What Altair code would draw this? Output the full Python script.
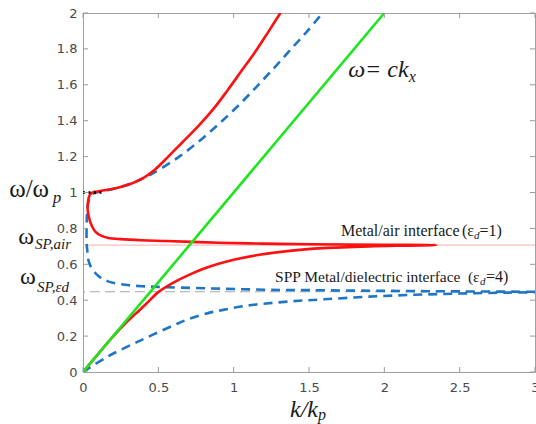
import altair as alt
import pandas as pd

# ---------------- data ----------------
x_ticks = [0, 0.5, 1, 1.5, 2, 2.5, 3]
y_ticks = [0, 0.2, 0.4, 0.6, 0.8, 1, 1.2, 1.4, 1.6, 1.8, 2]

# metal / air (eps_d = 1): one continuous red path
red_k = [0, 0.1, 0.2, 0.28, 0.35, 0.42, 0.5, 0.6, 0.7, 0.8, 0.9, 1.0, 1.15, 1.37, 1.59, 1.9, 2.15, 2.345,
         2.0, 1.5, 1.2, 0.9, 0.72, 0.55, 0.39, 0.25, 0.168, 0.12, 0.08, 0.055, 0.04, 0.031, 0.032, 0.038, 0.047,
         0.065, 0.144, 0.25, 0.387, 0.48, 0.566, 0.66, 0.765, 0.87, 0.96, 1.05, 1.14, 1.23, 1.31]
red_w = [0, 0.1, 0.198, 0.27, 0.325, 0.38, 0.445, 0.498, 0.54, 0.575, 0.603, 0.625, 0.65, 0.675, 0.69, 0.70, 0.704, 0.707,
         0.709, 0.712, 0.715, 0.72, 0.725, 0.73, 0.734, 0.74, 0.747, 0.76, 0.784, 0.82, 0.86, 0.905, 0.94, 0.97, 0.99,
         1.0, 1.012, 1.03, 1.075, 1.13, 1.2, 1.28, 1.37, 1.47, 1.57, 1.675, 1.78, 1.895, 2.0]

# metal / dielectric (eps_d = 4): lower branch
blue_low_k = [0, 0.168, 0.39, 0.61, 0.71, 0.83, 0.93, 1.05, 1.15, 1.37, 1.6, 1.9, 2.2, 2.5, 2.8, 3.0]
blue_low_w = [0, 0.088, 0.179, 0.263, 0.298, 0.328, 0.346, 0.365, 0.376, 0.393, 0.405, 0.42, 0.43, 0.437, 0.442, 0.444]

# metal / dielectric (eps_d = 4): back-bent part + upper branch
blue_up_k = [3.0, 2.5, 2.0, 1.5, 1.23, 0.83, 0.5, 0.39, 0.28, 0.166, 0.11, 0.08, 0.05, 0.035, 0.028, 0.024, 0.024,
             0.026, 0.03, 0.04, 0.06, 0.1, 0.2, 0.317, 0.449, 0.639, 0.791, 0.925, 1.05, 1.164, 1.275, 1.382, 1.49, 1.59]
blue_up_w = [0.447, 0.449, 0.452, 0.456, 0.458, 0.466, 0.474, 0.478, 0.486, 0.505, 0.53, 0.553, 0.59, 0.626, 0.68, 0.72, 0.81,
             0.87, 0.92, 0.96, 0.99, 1.003, 1.02, 1.05, 1.1, 1.2, 1.3, 1.4, 1.5, 1.6, 1.7, 1.8, 1.9, 2.0]

light_k = [0, 2]
light_w = [0, 2]

dot_k = [0, 0.14]
dot_w = [1, 1]

w_sp_air = 0.707
w_sp_d = 0.447

W, H = 452, 359

xs = alt.Scale(domain=[0, 3], nice=False, zero=False)
ys = alt.Scale(domain=[0, 2], nice=False, zero=False)

xaxis = alt.Axis(values=x_ticks, format="~g", title=None, grid=False, ticks=False, domain=False,
                 labelFont="DejaVu Sans", labelFontSize=13, labelColor="#4a4a4a", labelPadding=9,
                 labelFlush=False, labelOverlap=False)
yaxis = alt.Axis(values=y_ticks, format="~g", title=None, grid=False, ticks=False, domain=False,
                 labelFont="DejaVu Sans", labelFontSize=13, labelColor="#4a4a4a", labelPadding=6,
                 labelOverlap=False)


def path(k, w):
    return pd.DataFrame({"k": k, "w": w, "i": list(range(len(k)))})


def line(df, **kw):
    return alt.Chart(df).mark_line(clip=True, **kw).encode(
        x=alt.X("k:Q", scale=xs, axis=xaxis),
        y=alt.Y("w:Q", scale=ys, axis=yaxis),
        order="i:Q",
    )


pink = alt.Chart(pd.DataFrame({"w": [w_sp_air]})).mark_rule(color="#ffbcbc", strokeWidth=1.2).encode(
    y=alt.Y("w:Q", scale=ys, axis=yaxis))
gray = alt.Chart(pd.DataFrame({"w": [w_sp_d]})).mark_rule(color="#a8a8a8", strokeWidth=1.2,
                                                            strokeDash=[10, 5]).encode(
    y=alt.Y("w:Q", scale=ys, axis=yaxis))

blue_low = line(path(blue_low_k, blue_low_w), color="#1f75c6", strokeWidth=2.6, strokeDash=[9, 6],
                interpolate="catmull-rom")
blue_up = line(path(blue_up_k, blue_up_w), color="#1f75c6", strokeWidth=2.6, strokeDash=[9, 6],
               interpolate="catmull-rom")
red = line(path(red_k, red_w), color="#ff1010", strokeWidth=2.6, interpolate="catmull-rom")
green = line(path(light_k, light_w), color="#1ee61e", strokeWidth=2.6)
dotted = line(path(dot_k, dot_w), color="#000000", strokeWidth=2.6, strokeDash=[2, 3.5])

# inside ticks (MATLAB style box)
xt = pd.DataFrame({"t": x_ticks})
yt = pd.DataFrame({"t": y_ticks})
tick_col = "#9a9a9a"
tb = alt.Chart(xt).mark_rule(color=tick_col).encode(x=alt.X("t:Q", scale=xs, axis=xaxis),
                                                    y=alt.value(H), y2=alt.value(H - 5))
tt = alt.Chart(xt).mark_rule(color=tick_col).encode(x=alt.X("t:Q", scale=xs, axis=xaxis),
                                                    y=alt.value(0), y2=alt.value(5))
tl = alt.Chart(yt).mark_rule(color=tick_col).encode(y=alt.Y("t:Q", scale=ys, axis=yaxis),
                                                    x=alt.value(0), x2=alt.value(5))
tr = alt.Chart(yt).mark_rule(color=tick_col).encode(y=alt.Y("t:Q", scale=ys, axis=yaxis),
                                                    x=alt.value(W), x2=alt.value(W - 5))

# ---------------- text annotations (data coordinates) ----------------
ann_text = ["ω= ck", "x",
            "ω/ω", "p",
            "ω", "SP,air",
            "ω", "SP,εd",
            "Metal/air  interface", "(ε", "d", "=1)",
            "SPP Metal/dielectric  interface", "(ε", "d", "=4)",
            "k/k", "p"]
ann_k = [1.76, 2.162,
         -0.49, -0.2,
         -0.43, -0.318,
         -0.418, -0.305,
         1.712, 2.515, 2.595, 2.632,
         1.275, 2.555, 2.635, 2.675,
         1.374, 1.56]
ann_w = [1.643, 1.615,
         0.977, 0.94,
         0.712, 0.688,
         0.49, 0.448,
         0.76, 0.76, 0.742, 0.76,
         0.50, 0.50, 0.482, 0.50,
         -0.25, -0.265]
ann_size = [24, 16, 25, 17, 24, 15, 24, 15, 16, 16, 11, 16, 15.5, 15.5, 11, 16, 24, 16]
ann_style = ["italic", "italic", "normal", "italic", "normal", "italic", "normal", "italic",
             "normal", "normal", "italic", "normal", "normal", "normal", "italic", "normal",
             "italic", "italic"]

layers = [pink, gray, blue_low, blue_up, red, green, dotted, tb, tt, tl, tr]
for s, k, w, fs, st in zip(ann_text, ann_k, ann_w, ann_size, ann_style):
    layers.append(
        alt.Chart(pd.DataFrame({"k": [k], "w": [w], "s": [s]})).mark_text(
            align="left", baseline="alphabetic", font="Liberation Serif", fontSize=fs,
            fontStyle=st, color="#1a1a1a").encode(
            x=alt.X("k:Q", scale=xs, axis=xaxis),
            y=alt.Y("w:Q", scale=ys, axis=yaxis),
            text="s:N")
    )

chart = alt.layer(*layers).properties(
    width=W, height=H,
    autosize=alt.AutoSizeParams(type="none"),
    padding={"left": 83, "top": 13, "right": 1, "bottom": 52},
    background="white",
).configure_view(stroke="#a0a0a0", strokeWidth=1)

chart.save("out.html", embed_options={"renderer": "svg", "actions": False})
